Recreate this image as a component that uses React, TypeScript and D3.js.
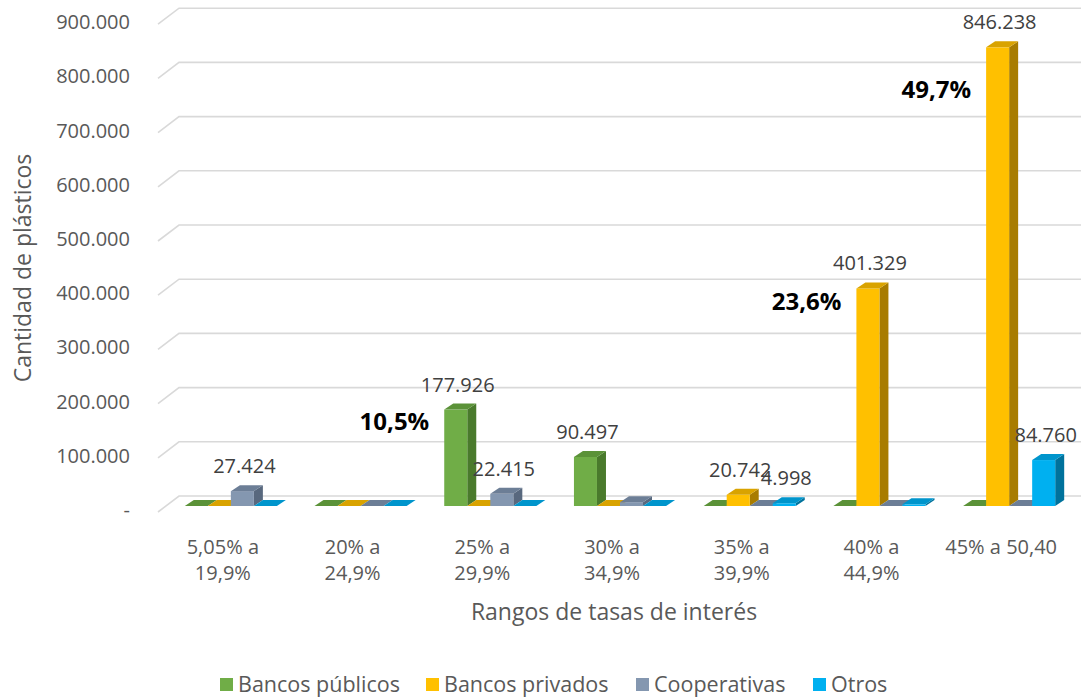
import React from 'react';
import * as d3 from 'd3';

// categories (interest-rate ranges), each line of a label separated by \n
const categories = ['5,05% a\n19,9%', '20% a\n24,9%', '25% a\n29,9%', '30% a\n34,9%', '35% a\n39,9%', '40% a\n44,9%', '45% a 50,40'];

const seriesNames = ['Bancos públicos', 'Bancos privados', 'Cooperativas', 'Otros'];
const publicos = [0, 0, 177926, 90497, 0, 0, 0];
const privados = [0, 0, 0, 0, 20742, 401329, 846238];
const cooperativas = [27424, 0, 22415, 7000, 0, 0, 0];
const otros = [0, 0, 0, 0, 4998, 3000, 84760];

// which values get a data label in the original
const publicosLabel = [false, false, true, true, false, false, false];
const privadosLabel = [false, false, false, false, true, true, true];
const cooperativasLabel = [true, false, true, false, false, false, false];
const otrosLabel = [false, false, false, false, true, false, true];

const yTicks = [0, 100000, 200000, 300000, 400000, 500000, 600000, 700000, 800000, 900000];

// share annotations: category index, series index, text, value height of the text
const notes = [
  { cat: 2, s: 0, text: '10,5%', at: 140000 },
  { cat: 5, s: 1, text: '23,6%', at: 361000 },
  { cat: 6, s: 1, text: '49,7%', at: 752000 },
];

const colors = [
  { front: '#70ad47', top: '#5b9238', side: '#4a7a2c' },
  { front: '#ffc000', top: '#d9a300', side: '#a87c00' },
  { front: '#8497b0', top: '#6c7e96', side: '#58687e' },
  { front: '#00b0f0', top: '#0095cc', side: '#00729c' },
];

const W = 1081;
const H = 698;
const font = '"Open Sans", sans-serif';

const locale = d3.formatLocale({ decimal: ',', thousands: '.', grouping: [3], currency: ['', ''] });
const fmt = locale.format(',d');

// 3D offsets
const floorDx = 21, floorDy = 16; // floor depth (front edge -> back wall)
const barDx = 9, barDy = 6; // depth of a column
const midDx = 8, midDy = 6; // front face of columns sits this far behind the floor edge

export default function App() {
  const series = [publicos, privados, cooperativas, otros];
  const shown = [publicosLabel, privadosLabel, cooperativasLabel, otrosLabel];

  const x = d3.scaleBand<string>()
    .domain(categories)
    .range([158, 1066])
    .paddingInner(0.29)
    .paddingOuter(0.145);

  const xs = d3.scaleBand<number>()
    .domain([0, 1, 2, 3])
    .range([0, x.bandwidth()]);

  // y of the columns' front face
  const y = d3.scaleLinear().domain([0, 900000]).range([506, 18.2]);

  const bw = xs.bandwidth();

  const legendX = [220, 426, 636, 813];

  return (
    <div>
      <svg width={W} height={H} style={{ position: 'absolute', left: 0, top: 0, background: '#fff' }}>
        {/* gridlines with the side-wall diagonal */}
        {yTicks.map(t => {
          const yf = y(t) + midDy;
          const yb = yf - floorDy;
          const x0 = x.range()[0];
          return (
            <path key={t} d={`M${x0},${yf}L${x0 + floorDx},${yb}L${W},${yb}`}
              fill="none" stroke="#d9d9d9" strokeWidth={1.6} />
          );
        })}

        {/* y axis labels */}
        {yTicks.map(t => (
          <text key={'l' + t} x={130} y={y(t) + midDy - 2} dy="0.35em" textAnchor="end"
            fontFamily={font} fontSize={20} fill="#595959">
            {t === 0 ? '-' : fmt(t)}
          </text>
        ))}

        {/* columns */}
        {categories.map((c, ci) => (
          <g key={c}>
            {series.map((vals, si) => {
              const v = vals[ci];
              const x0 = (x(c) as number) + (xs(si) as number) + midDx;
              const x1 = x0 + bw;
              const yt = y(v);
              const yb = y(0);
              const col = colors[si];
              const side = `M${x1},${yt}L${x1 + barDx},${yt - barDy}L${x1 + barDx},${yb - barDy}L${x1},${yb}Z`;
              const top = `M${x0},${yt}L${x0 + barDx},${yt - barDy}L${x1 + barDx},${yt - barDy}L${x1},${yt}Z`;
              return (
                <g key={si}>
                  {v > 0 && <path d={side} fill={col.side} />}
                  {v > 0 && <rect x={x0} y={yt} width={bw} height={yb - yt} fill={col.front} />}
                  <path d={top} fill={col.top} />
                </g>
              );
            })}
          </g>
        ))}

        {/* data labels */}
        {categories.map((c, ci) => series.map((vals, si) => {
          if (!shown[si][ci]) return null;
          const v = vals[ci];
          const cx = (x(c) as number) + (xs(si) as number) + midDx + bw / 2 + 2;
          return (
            <text key={`d${ci}-${si}`} x={cx} y={y(v) - 18} textAnchor="middle"
              fontFamily={font} fontSize={20} fill="#404040">
              {fmt(v)}
            </text>
          );
        }))}

        {/* share annotations */}
        {notes.map(n => {
          const c = categories[n.cat];
          const bx = (x(c) as number) + (xs(n.s) as number) + midDx;
          return (
            <text key={n.text} x={bx - 15} y={y(n.at)} textAnchor="end"
              fontFamily={font} fontSize={24} fontWeight="bold" fill="#000">
              {n.text}
            </text>
          );
        })}

        {/* category labels */}
        {categories.map(c => (
          <text key={'c' + c} x={(x(c) as number) + x.bandwidth() / 2} y={554} textAnchor="middle"
            fontFamily={font} fontSize={20} fill="#595959">
            {c.split('\n').map((line, i) => (
              <tspan key={i} x={(x(c) as number) + x.bandwidth() / 2} dy={i === 0 ? 0 : 26}>{line}</tspan>
            ))}
          </text>
        ))}

        {/* axis titles */}
        <text x={614} y={620} textAnchor="middle" fontFamily={font} fontSize={23} fill="#595959">
          Rangos de tasas de interés
        </text>
        <text transform="translate(31,268) rotate(-90)" textAnchor="middle" fontFamily={font} fontSize={23} fill="#595959">
          Cantidad de plásticos
        </text>

        {/* legend */}
        {seriesNames.map((name, i) => (
          <g key={name} transform={`translate(${legendX[i]},684)`}>
            <rect x={0} y={-6} width={13} height={13} fill={colors[i].front} />
            <text x={18} y={0} dy="0.35em" fontFamily={font} fontSize={21.5} fill="#595959">{name}</text>
          </g>
        ))}
      </svg>
    </div>
  );
}
